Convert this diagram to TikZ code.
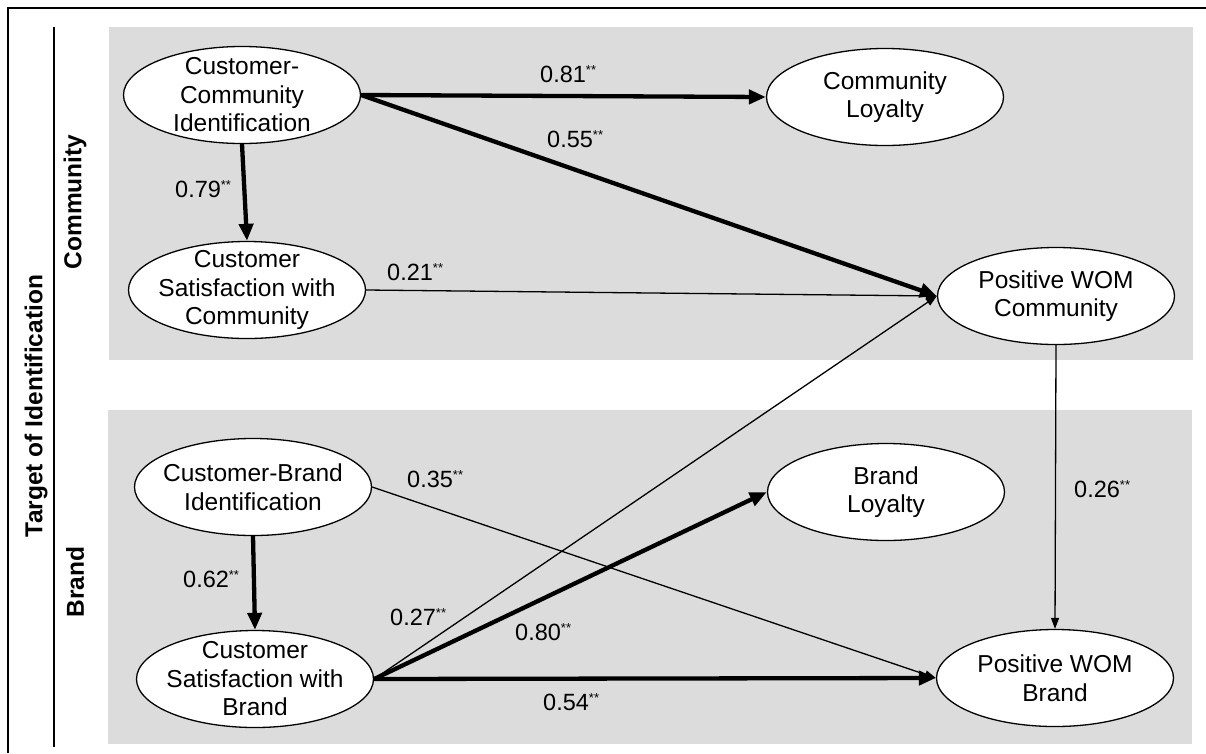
\documentclass[tikz,border=0pt]{standalone}
\usepackage{fontspec}
\setmainfont{Liberation Sans}
\usetikzlibrary{shapes.geometric,arrows.meta}
\definecolor{panel}{RGB}{220,220,220}
\newcommand\sigstars{\raisebox{7.5pt}{\fontsize{13}{13}\selectfont **}}
\begin{document}
\begin{tikzpicture}[x=1pt,y=-1pt,
  var/.style={ellipse, draw, fill=white, line width=1.3pt, inner sep=0pt,
              minimum width=237pt, minimum height=97pt},
  lbl/.style={align=center, inner sep=0pt, font=\fontsize{24.5}{28.5}\selectfont},
  thickarrow/.style={line width=4.3pt, -{Triangle[length=17pt,width=14pt]}},
  thinarrow/.style={line width=1.3pt, -{Triangle[length=11pt,width=8pt]}},
  coef/.style={anchor=base west, inner sep=0pt, font=\fontsize{23.5}{23.5}\selectfont},
  side/.style={rotate=90, inner sep=0pt, font=\bfseries\fontsize{24.5}{24.5}\selectfont}
]
\useasboundingbox (0,0) rectangle (1206,753);
% frame
\draw[line width=2.5pt] (8,753) -- (8,8) -- (1206,8);
% panels
\fill[panel] (109,27) rectangle (1193,360);
\fill[panel] (108,410) rectangle (1192,744);
% separator
\draw[line width=1.3pt] (54,27) -- (54,747);
% side labels
\node[side] (tgt) at (36,406) {Target of Identification};
\node[side] (comm) at (75,202) {Community};
\node[side] (brand) at (75,582) {Brand};
% variables
\node[var, label={[lbl]center:Customer-\\Community\\Identification}] (cci) at (242,95) {};
\node[var, label={[lbl]center:Customer\\Satisfaction with\\Community}] (csc) at (247,290) {};
\node[var, label={[lbl]center:Community\\Loyalty}] (cl) at (885,97) {};
\node[var, label={[lbl]center:Positive WOM\\Community}] (pwc) at (1056,296) {};
\node[var, label={[lbl]center:Customer-Brand\\Identification}] (cbi) at (253,487) {};
\node[var, label={[lbl]center:Customer\\Satisfaction with\\Brand}] (csb) at (255,679) {};
\node[var, label={[lbl]center:Brand\\Loyalty}] (bl) at (886,492) {};
\node[var, label={[lbl]center:Positive WOM\\Brand}] (pwb) at (1055,678) {};
% paths
\draw[thinarrow] (csc.east) -- (pwc.west);
\draw[thinarrow] (csb.east) -- (pwc.west);
\draw[thinarrow] (cbi.east) -- (pwb.west);
\draw[thinarrow] (pwc.south) -- (pwb.north);
\draw[thickarrow] (cci.east) -- (cl.west);
\draw[thickarrow] (cci.east) -- (pwc.west);
\draw[thickarrow] (cci.south) -- (csc.north);
\draw[thickarrow] (cbi.south) -- (csb.north);
\draw[thickarrow] (csb.east) -- (bl.west);
\draw[thickarrow] (csb.east) -- (pwb.west);
% coefficients
\node[coef] (c81) at (540,82) {0.81\sigstars};
\node[coef] (c55) at (547,147) {0.55\sigstars};
\node[coef] (c21) at (387,280) {0.21\sigstars};
\node[coef] (c79) at (175,197) {0.79\sigstars};
\node[coef] (c62) at (183,587) {0.62\sigstars};
\node[coef] (c35) at (407,487) {0.35\sigstars};
\node[coef] (c27) at (390,625) {0.27\sigstars};
\node[coef] (c80) at (515,640) {0.80\sigstars};
\node[coef] (c54) at (543,710) {0.54\sigstars};
\node[coef] (c26) at (1074,497) {0.26\sigstars};
\end{tikzpicture}
\end{document}
